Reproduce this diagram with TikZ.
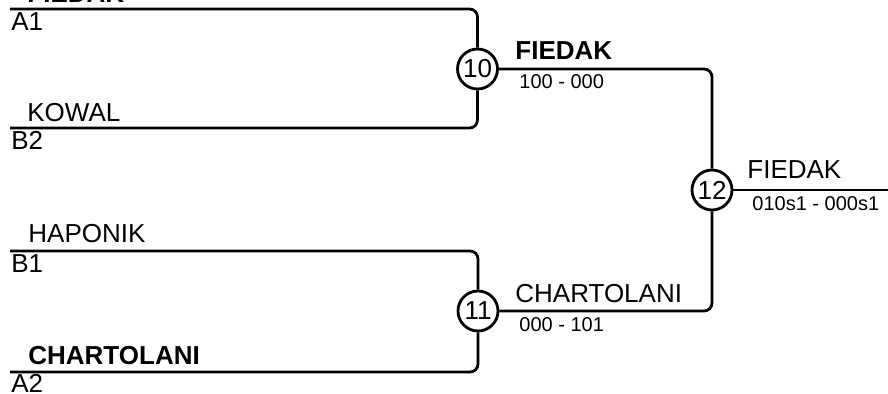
\documentclass[tikz,border=0pt]{standalone}
\usepackage{fontspec}
\setmainfont{Liberation Sans}
\usetikzlibrary{positioning}

\begin{document}
\begin{tikzpicture}[
  x=0.5pt,y=-0.5pt,
  bline/.style={line width=1.4pt,rounded corners=4pt},
  match/.style={circle,draw,line width=1.4pt,minimum size=20pt,inner sep=0pt,
                font=\fontsize{13}{15}\selectfont,fill=white},
  pname/.style={anchor=base west,inner sep=0pt,font=\fontsize{13}{15}\selectfont},
  score/.style={anchor=base west,inner sep=0pt,font=\fontsize{10}{12}\selectfont},
  slot/.style={anchor=base west,inner sep=0pt,font=\fontsize{13}{15}\selectfont}
]
\useasboundingbox (0,0) rectangle (888,394);

% slot ends on the left
\coordinate (a1) at (10,9);
\coordinate (b2) at (10,128);
\coordinate (b1) at (10,251);
\coordinate (a2) at (10,372);
\coordinate (out) at (888,190);

% matches
\node[match] (m10) at (477.5,69)  {10};
\node[match] (m11) at (478,311)   {11};
\node[match] (m12) at (712,190)   {12};

% bracket lines
\draw[bline] (a1) -| (m10);
\draw[bline] (b2) -| (m10);
\draw[bline] (b1) -| (m11);
\draw[bline] (a2) -| (m11);
\draw[bline] (m10) -| (m12);
\draw[bline] (m11) -| (m12);
\draw[bline] (m12) -- (out);

% players
\node[pname] (pA1) at (27,3)    {\bfseries FIEDAK};
\node[pname] (pB2) at (27,122)  {KOWAL};
\node[pname] (pB1) at (28,243)  {HAPONIK};
\node[pname] (pA2) at (28,365)  {\bfseries CHARTOLANI};
\node[slot] (sA1) at (11,31)  {A1};
\node[slot] (sB2) at (11,150) {B2};
\node[slot] (sB1) at (11,273) {B1};
\node[slot] (sA2) at (11,393) {A2};

% winners and scores
\node[pname] (w10) at (515,60)  {\bfseries FIEDAK};
\node[score] (r10) at (519,89)  {100 - 000};
\node[pname] (w11) at (515,303) {CHARTOLANI};
\node[score] (r11) at (519,332) {000 - 101};
\node[pname] (w12) at (747,179) {FIEDAK};
\node[score] (r12) at (752,211) {010s1 - 000s1};
\end{tikzpicture}
\end{document}
